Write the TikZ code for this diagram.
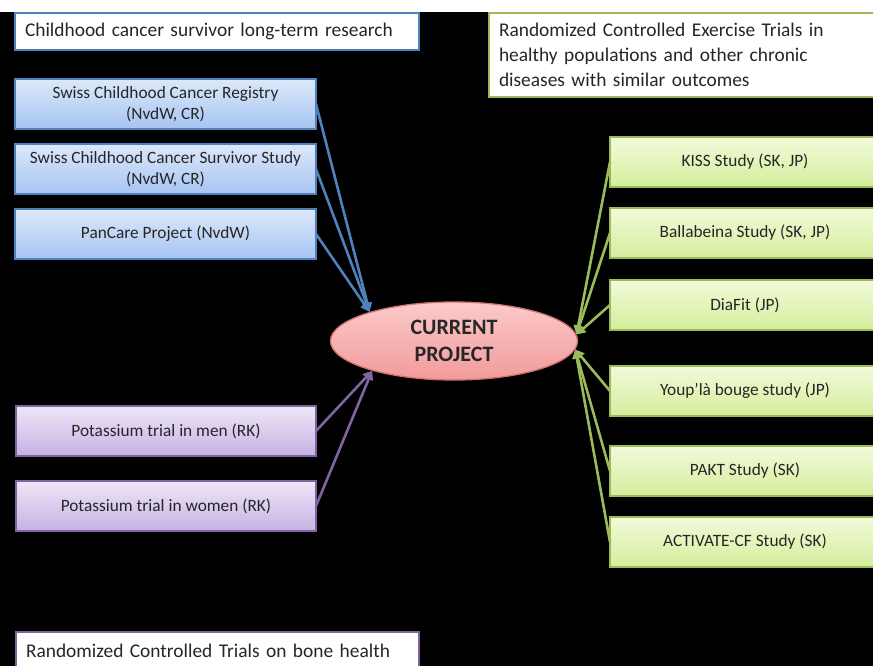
\documentclass[tikz,border=0pt]{standalone}
\usepackage{fontspec}
\setmainfont{Carlito}
\usetikzlibrary{arrows.meta, shapes.geometric}

\definecolor{offblue}{HTML}{4F81BD}
\definecolor{offgreen}{HTML}{9BBB59}
\definecolor{offpurple}{HTML}{8064A2}
\definecolor{offred}{HTML}{C0504D}
\definecolor{bluetop}{HTML}{DCE8FA}
\definecolor{bluebot}{HTML}{A6C5F2}
\definecolor{greentop}{HTML}{F2FADA}
\definecolor{greenbot}{HTML}{D4EE9C}
\definecolor{purpletop}{HTML}{EEE6F7}
\definecolor{purplebot}{HTML}{C6B2E4}
\definecolor{pinktop}{HTML}{FBCACA}
\definecolor{pinkbot}{HTML}{F29A9A}

\tikzset{
  box/.style={draw, line width=1.3pt, minimum height=50pt, align=center,
    anchor=north west, inner sep=0pt, outer sep=0pt, text=black!85,
    font=\fontsize{17.3}{20.5}\selectfont},
  bluebox/.style={box, draw=offblue, top color=bluetop, bottom color=bluebot, minimum width=301pt},
  purplebox/.style={box, draw=offpurple, top color=purpletop, bottom color=purplebot, minimum width=300pt},
  greenbox/.style={box, draw=offgreen, top color=greentop, bottom color=greenbot, minimum width=270pt},
  headbox/.style={box, fill=white, align=left, inner xsep=10pt, font=\fontsize{19.4}{25}\selectfont},
  link/.style={line width=2.6pt, -{Triangle[length=9pt,width=9pt]}}
}

\begin{document}
\begin{tikzpicture}[x=1pt, y=-1pt]
\useasboundingbox (0,0) rectangle (873,666);
\clip (0,0) rectangle (873,666);
\fill[white] (0,0) rectangle (873,12);
\fill[black] (0,12) rectangle (873,666);

% group headings
\node[headbox, draw=offblue, minimum height=37pt, text width=384pt] (hchild) at (15,13) {Childhood cancer survivor long-term research};
\node[headbox, draw=offgreen, minimum height=84pt, text width=400pt] (hexer) at (489,13)
  {Randomized Controlled Exercise Trials in\\healthy populations and other chronic\\diseases with similar outcomes};
\node[headbox, draw=offpurple, minimum height=37pt, text width=383pt] (hbone) at (16,632) {Randomized Controlled Trials on bone health};

% childhood cancer projects
\node[bluebox] (reg) at (15,79) {Swiss Childhood Cancer Registry\\(NvdW, CR)};
\node[bluebox] (surv) at (15,144) {Swiss Childhood Cancer Survivor Study\\(NvdW, CR)};
\node[bluebox] (pan) at (15,209) {PanCare Project (NvdW)};

% bone health trials
\node[purplebox] (men) at (16,406) {Potassium trial in men (RK)};
\node[purplebox] (women) at (16,481) {Potassium trial in women (RK)};

% exercise trials
\node[greenbox] (kiss) at (610,137) {KISS Study (SK, JP)};
\node[greenbox] (balla) at (610,208) {Ballabeina Study (SK, JP)};
\node[greenbox] (diafit) at (610,280) {DiaFit (JP)};
\node[greenbox] (youp) at (610,366) {Youp’là bouge study (JP)};
\node[greenbox] (pakt) at (610,446) {PAKT Study (SK)};
\node[greenbox] (activ) at (610,517) {ACTIVATE-CF Study (SK)};

\node[ellipse, draw=offred!80, line width=1.3pt, top color=pinktop, bottom color=pinkbot,
  minimum width=247pt, minimum height=78pt, inner sep=0pt, align=center, text=black!85,
  font=\fontsize{22}{27}\selectfont\bfseries] (cp) at (454,341) {CURRENT\\PROJECT};

\draw[link, offblue] (reg.east) -- (cp.161);
\draw[link, offblue] (surv.east) -- (cp.161);
\draw[link, offblue] (pan.east) -- (cp.161);
\draw[link, offpurple] (men.east) -- (cp.200);
\draw[link, offpurple] (women.east) -- (cp.200);
\draw[link, offgreen] (kiss.west) -- (cp.3);
\draw[link, offgreen] (balla.west) -- (cp.3);
\draw[link, offgreen] (diafit.west) -- (cp.3);
\draw[link, offgreen] (youp.west) -- (cp.-4);
\draw[link, offgreen] (pakt.west) -- (cp.-4);
\draw[link, offgreen] (activ.west) -- (cp.-4);
\end{tikzpicture}
\end{document}
